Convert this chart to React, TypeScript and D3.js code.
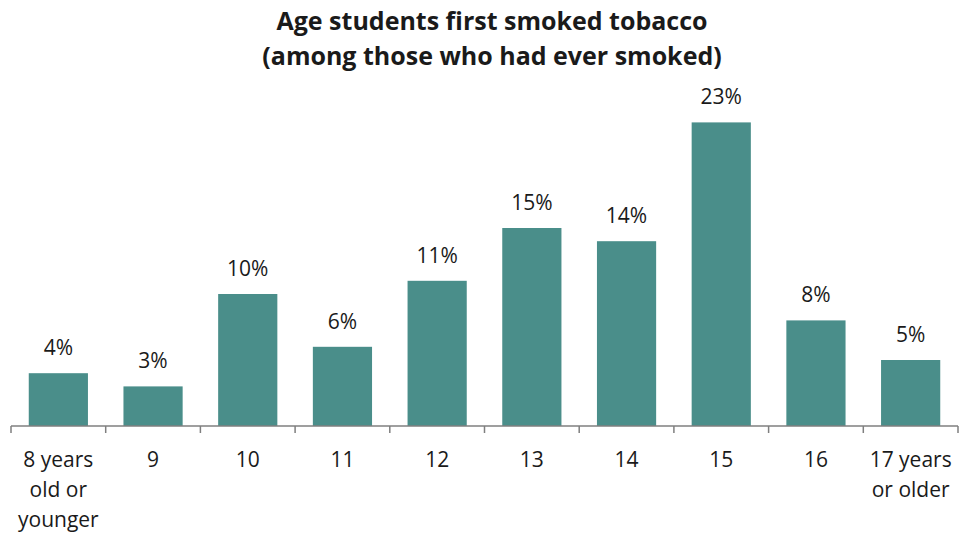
import React from "react";
import * as d3 from "d3";

const categories = ["8 years\nold or\nyounger", "9", "10", "11", "12", "13", "14", "15", "16", "17 years\nor older"];
const values = [4, 3, 10, 6, 11, 15, 14, 23, 8, 5];
const titleLines = ["Age students first smoked tobacco", "(among those who had ever smoked)"];

const W = 960, H = 534;
const FONT = "'Open Sans', sans-serif";

export default function App() {
  const x = d3.scaleBand<number>().domain(d3.range(categories.length)).range([11, 958]).paddingInner(0.375).paddingOuter(0.1875);
  const y = d3.scaleLinear().domain([0, 25]).range([426, 96]);
  const step = x.step();
  const ticks = d3.range(categories.length + 1).map(i => 11 + i * step);
  return (
    <svg width={W} height={H} style={{ position: "absolute", left: 0, top: 0, background: "#fff" }}>
      {titleLines.map((t, i) => (
        <text key={i} x={492} y={30 + i * 35} textAnchor="middle" fontFamily={FONT} fontWeight="bold" fontSize={25} fill="#1a1a1a">{t}</text>
      ))}
      {values.map((v, i) => (
        <g key={i}>
          <rect x={x(i)} y={y(v)} width={x.bandwidth()} height={y(0) - y(v)} fill="#4a8e8a" />
          <text x={(x(i) as number) + x.bandwidth() / 2} y={y(v) - 18} textAnchor="middle" fontFamily={FONT} fontSize={21} fill="#1a1a1a">{v}%</text>
        </g>
      ))}
      <line x1={11} x2={958} y1={426} y2={426} stroke="#7f7f7f" strokeWidth={1.5} />
      {ticks.map((t, i) => (
        <line key={i} x1={t} x2={t} y1={426} y2={433} stroke="#7f7f7f" strokeWidth={1.5} />
      ))}
      {categories.map((c, i) => (
        <text key={i} textAnchor="middle" fontFamily={FONT} fontSize={21} fill="#1a1a1a">
          {c.split("\n").map((l, j) => (
            <tspan key={j} x={(x(i) as number) + x.bandwidth() / 2} y={467 + j * 30}>{l}</tspan>
          ))}
        </text>
      ))}
    </svg>
  );
}
